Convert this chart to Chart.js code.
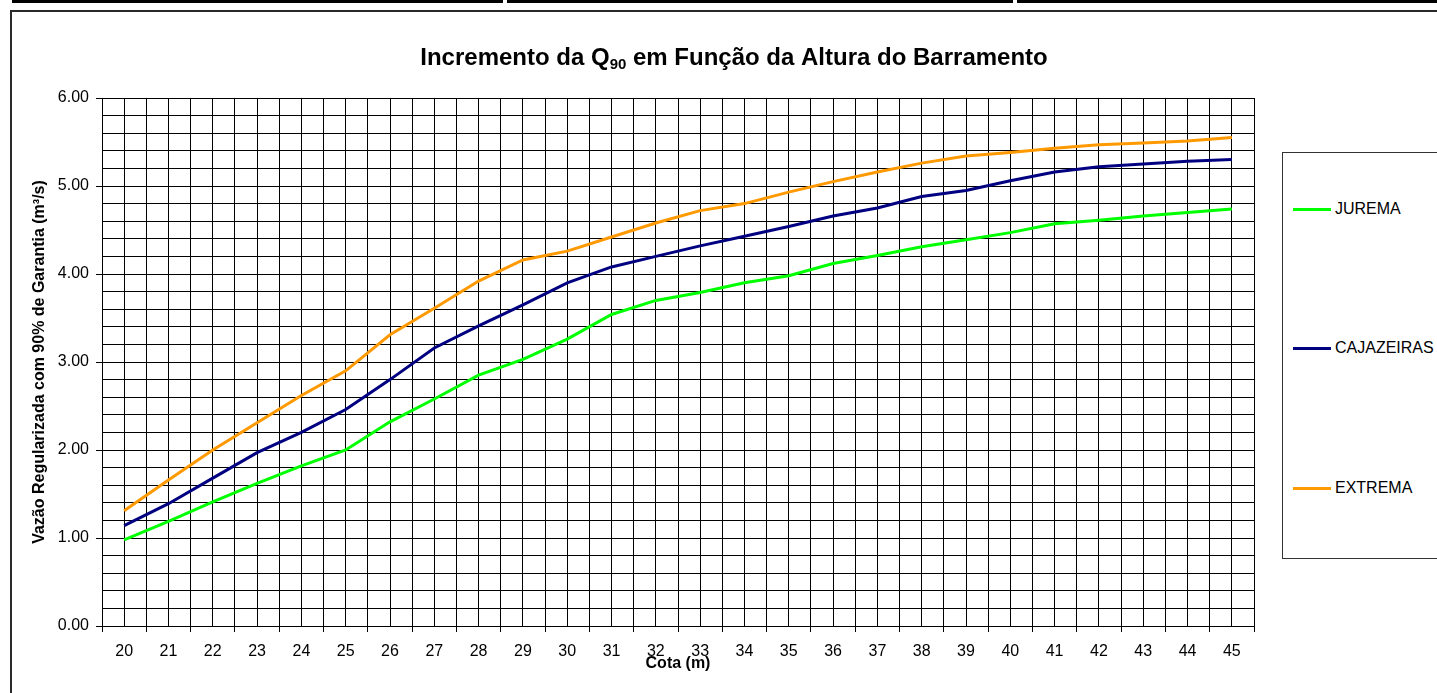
<!DOCTYPE html>
<html>
<head>
<meta charset="utf-8">
<script src="https://cdn.jsdelivr.net/npm/chart.js@4.4.1/dist/chart.umd.min.js"></script>
<style>
  html, body { margin: 0; padding: 0; background: #fff; }
  #wrap { position: relative; width: 1437px; height: 693px; overflow: hidden;
          font-family: "Liberation Sans", Arial, sans-serif; }
  .bar { position: absolute; top: 0; height: 3px; background: #000; }
  #frame { position: absolute; left: 10px; top: 10px; width: 1500px; height: 800px;
           border-top: 2px solid #2a2a2a; border-left: 2px solid #2a2a2a; }
  #cv { position: absolute; left: 0; top: 0; }
  #legend { position: absolute; left: 1282px; top: 152px; width: 200px; height: 405px;
            border: 1px solid #333; background: #fff; }
  .item { position: absolute; left: 10px; height: 20px; display: flex; align-items: center;
          font-size: 16px; color: #000; white-space: nowrap; }
  .swatch { width: 38px; height: 3px; margin-right: 4px; }
</style>
</head>
<body>
<div id="wrap">
  <div class="bar" style="left:12px;width:491px"></div>
  <div class="bar" style="left:507px;width:506px"></div>
  <div class="bar" style="left:1017px;width:420px"></div>
  <div id="frame"></div>
  <canvas id="cv" width="1437" height="693"></canvas>
  <div id="legend"></div>
</div>
<script>
// Cota (m) for each point
const categories = [20, 21, 22, 23, 24, 25, 26, 27, 28, 29, 30, 31, 32, 33, 34, 35, 36, 37, 38, 39, 40, 41, 42, 43, 44, 45];

// Q90 regularized flow (m³/s) per reservoir
const jurema     = [0.98, 1.19, 1.41, 1.62, 1.82, 2.00, 2.32, 2.58, 2.85, 3.03, 3.26, 3.54, 3.70, 3.79, 3.90, 3.98, 4.12, 4.21, 4.31, 4.39, 4.47, 4.57, 4.61, 4.66, 4.70, 4.74];
const cajazeiras = [1.14, 1.39, 1.68, 1.97, 2.20, 2.46, 2.80, 3.16, 3.41, 3.65, 3.90, 4.08, 4.20, 4.32, 4.43, 4.54, 4.66, 4.75, 4.88, 4.95, 5.06, 5.16, 5.22, 5.25, 5.28, 5.30];
const extrema    = [1.31, 1.66, 2.00, 2.31, 2.62, 2.90, 3.31, 3.61, 3.92, 4.16, 4.26, 4.42, 4.58, 4.72, 4.80, 4.93, 5.05, 5.16, 5.26, 5.34, 5.38, 5.43, 5.47, 5.49, 5.51, 5.55];

const seriesNames  = ['JUREMA', 'CAJAZEIRAS', 'EXTREMA'];
const seriesColors = ['#00FF00', '#000080', '#FF9900'];

// y-axis labelled values
const yTickValues = [0, 1, 2, 3, 4, 5, 6];
const yTickLabels = ['0.00', '1.00', '2.00', '3.00', '4.00', '5.00', '6.00'];

const titleMain = 'Incremento da Q';
const titleSub = '90';
const titleRest = ' em Função da Altura do Barramento';
const xTitle = 'Cota (m)';
const yTitle = 'Vazão Regularizada com 90% de Garantia (m³/s)';

const FONT = '"Liberation Sans", Arial, sans-serif';
Chart.defaults.font.family = FONT;
Chart.defaults.color = '#000';

const seriesValues = [jurema, cajazeiras, extrema];
const datasets = seriesValues.map((vals, k) => ({
  label: seriesNames[k],
  data: categories.map((c, i) => ({ x: c, y: vals[i] })),
  borderColor: seriesColors[k],
  backgroundColor: seriesColors[k],
  borderWidth: 3,
  pointRadius: 0,
  tension: 0,
  fill: false
}));

const isWhole = v => Math.abs(v - Math.round(v)) < 1e-6;

// Title with a subscript, drawn above the plot
const titlePlugin = {
  id: 'subTitle',
  afterDraw(chart) {
    const ctx = chart.ctx;
    ctx.save();
    ctx.fillStyle = '#000';
    ctx.textBaseline = 'alphabetic';
    const mainFont = 'bold 24px ' + FONT;
    const subFont = 'bold 15px ' + FONT;
    ctx.font = mainFont;
    const w1 = ctx.measureText(titleMain).width;
    const w3 = ctx.measureText(titleRest).width;
    ctx.font = subFont;
    const w2 = ctx.measureText(titleSub).width;
    const total = w1 + w2 + w3;
    let x = 734 - total / 2;
    const base = 65;
    ctx.font = mainFont;
    ctx.fillText(titleMain, x, base);
    x += w1;
    ctx.font = subFont;
    ctx.fillText(titleSub, x, base + 4);
    x += w2;
    ctx.font = mainFont;
    ctx.fillText(titleRest, x, base);
    ctx.restore();
  }
};

const chart = new Chart(document.getElementById('cv'), {
  type: 'line',
  data: { datasets },
  options: {
    responsive: false,
    animation: false,
    devicePixelRatio: 1,
    layout: { padding: { left: 0, right: 183, top: 98, bottom: 0 } },
    plugins: { legend: { display: false }, tooltip: { enabled: false }, title: { display: false } },
    scales: {
      x: {
        type: 'linear',
        min: categories[0] - 0.5,
        max: categories[categories.length - 1] + 0.5,
        afterBuildTicks(scale) {
          const t = [];
          for (let i = 0; i <= categories.length * 2; i++) {
            t.push({ value: categories[0] - 0.5 + i * 0.5 });
          }
          scale.ticks = t;
        },
        afterFit(scale) { scale.height = 67; },
        ticks: {
          autoSkip: false, maxRotation: 0, minRotation: 0, padding: 10,
          font: { size: 16 },
          callback: v => (isWhole(v) && categories.includes(Math.round(v))) ? String(Math.round(v)) : ''
        },
        grid: {
          color: '#000', lineWidth: 1, tickLength: 6,
          tickColor: c => isWhole(c.tick.value) ? 'rgba(0,0,0,0)' : '#000'
        },
        border: { display: true, color: '#000', width: 1 },
        title: { display: true, text: xTitle, font: { size: 16, weight: 'bold' }, padding: { top: 0, bottom: 20 } }
      },
      y: {
        type: 'linear',
        min: 0,
        max: 6,
        afterBuildTicks(scale) {
          const t = [];
          for (let i = 0; i <= 30; i++) t.push({ value: Math.round(i * 2) / 10 });
          scale.ticks = t;
        },
        afterFit(scale) { scale.width = 102; },
        ticks: {
          autoSkip: false, padding: 7,
          font: { size: 16 },
          callback: v => {
            const idx = yTickValues.findIndex(t => Math.abs(t - v) < 1e-6);
            return idx >= 0 ? yTickLabels[idx] : '';
          }
        },
        grid: {
          color: '#000', lineWidth: 1, tickLength: 6,
          tickColor: c => isWhole(c.tick.value) ? '#000' : 'rgba(0,0,0,0)'
        },
        border: { display: true, color: '#000', width: 1 },
        title: { display: true, text: yTitle, font: { size: 16, weight: 'bold' }, padding: { top: 30, bottom: 0 } }
      }
    }
  },
  plugins: [titlePlugin]
});

// Legend box built from the chart's datasets
const legend = document.getElementById('legend');
const itemCenters = [56, 195, 335];
chart.data.datasets.forEach((ds, k) => {
  const it = document.createElement('div');
  it.className = 'item';
  it.style.top = (itemCenters[k] - 10) + 'px';
  const sw = document.createElement('span');
  sw.className = 'swatch';
  sw.style.background = ds.borderColor;
  const tx = document.createElement('span');
  tx.textContent = ds.label;
  it.appendChild(sw);
  it.appendChild(tx);
  legend.appendChild(it);
});
</script>
</body>
</html>
